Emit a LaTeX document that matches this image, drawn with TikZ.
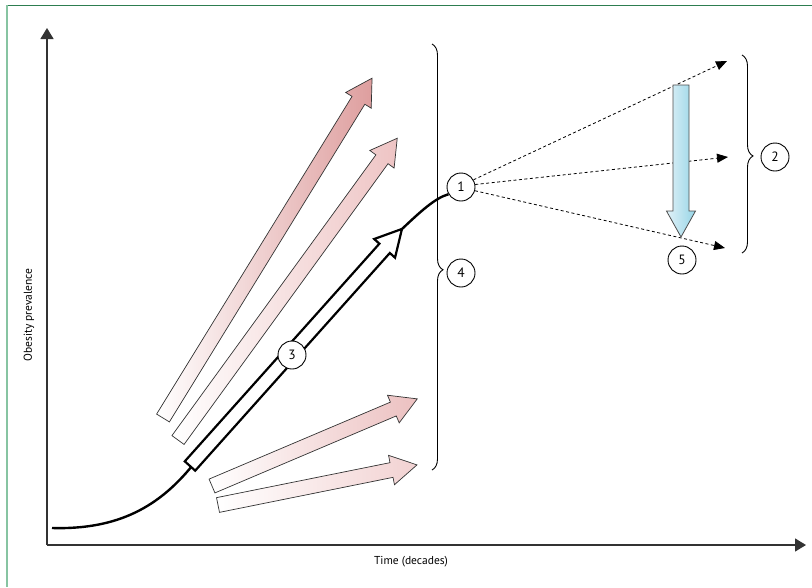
\documentclass[tikz,border=0pt]{standalone}
\usepackage{fontspec}
\setmainfont{PT Sans}
\usetikzlibrary{arrows.meta,decorations.pathreplacing}

\definecolor{framegreen}{RGB}{45,125,80}
\definecolor{framelight}{RGB}{135,196,162}
\definecolor{roseA}{RGB}{222,158,158}
\definecolor{roseB}{RGB}{238,196,196}
\definecolor{roseC}{RGB}{236,192,192}
\definecolor{roseD}{RGB}{242,210,210}
\definecolor{icetop}{RGB}{225,242,248}
\definecolor{icebot}{RGB}{150,212,230}

% block arrow: style, tail, angle, length, shaft half width, head half width
\newcommand{\blockarrow}[6]{%
  \begin{scope}[shift={#2},rotate=#3]
    \path[#1] (0,-#5) -- ({#4-26},-#5) -- ({#4-26},-#6) -- (#4,0)
      -- ({#4-26},#6) -- ({#4-26},#5) -- (0,#5) -- cycle;
  \end{scope}}

\tikzset{
  axis/.style={line width=1.4pt, draw=black!80, -{Triangle[length=11pt,width=13pt]}},
  num/.style={circle, draw, line width=0.9pt, fill=white, minimum size=28pt,
    inner sep=0pt, font=\fontsize{13.5}{14}\selectfont},
  proj/.style={line width=0.8pt, dash pattern=on 3pt off 2.5pt,
    -{Triangle[length=11pt,width=9pt]}},
  bracket/.style={decorate, decoration={brace, amplitude=11pt, aspect=#1},
    line width=0.9pt},
  rosearrow/.style={draw=black!80, line width=0.7pt, left color=white, right color=#1},
}

\begin{document}
\begin{tikzpicture}[x=1pt,y=-1pt,font=\fontsize{11.5}{13}\selectfont]
\useasboundingbox (0,0) rectangle (812,587);

% Frame
\draw[framegreen, line width=1pt] (6,5) -- (812,5);
\draw[framelight, line width=2pt] (7,5) -- (7,587);

% Axes
\draw[axis] (47,545) -- (47,28);
\draw[axis] (47,545) -- (806,545);
\node[rotate=90] (ylab) at (29,315) {Obesity prevalence};
\node (xlab) at (411,562) {Time (decades)};

% Driver arrows
\blockarrow{rosearrow=roseA}{(163,418)}{58.4}{399}{7.5}{15}
\blockarrow{rosearrow=roseB}{(178,440)}{54.0}{373}{7.5}{15}
\blockarrow{rosearrow=roseC}{(212,486)}{23.0}{223}{7.5}{15}
\blockarrow{rosearrow=roseD}{(218,505)}{11.4}{203}{7.5}{15}

% Prevalence curve
\node[num] (n1) at (461,187) {1};
\draw[line width=2.4pt] (52,528) .. controls (120,530) and (160,505) .. (192,466)
  -- (402,229) .. controls (420,212) and (435,198) .. (n1.210);
\blockarrow{draw=black, line width=2.2pt, fill=white}{(190,466)}{48.2}{318}{7}{14}

% Braces
\draw[bracket=0.53] (432,44) -- (432,470);
\draw[bracket=0.51] (742,55) -- (742,253);

% Projections
\coordinate (p1) at (727,61);
\coordinate (p2) at (728,157);
\coordinate (p3) at (725,248);
\draw[proj] (n1.30) -- (p1);
\draw[proj] (n1.10) -- (p2);
\draw[proj] (n1.-15) -- (p3);

% Intervention arrow
\blockarrow{draw=black!70, line width=0.8pt, left color=icetop, right color=icebot}{(681,85)}{-90}{152}{8}{14.5}

% Numbered markers
\node[num] (n2) at (775,157) {2};
\node[num] (n3) at (292,355) {3};
\node[num] (n4) at (461,273) {4};
\node[num] (n5) at (682,260) {5};
\end{tikzpicture}
\end{document}
